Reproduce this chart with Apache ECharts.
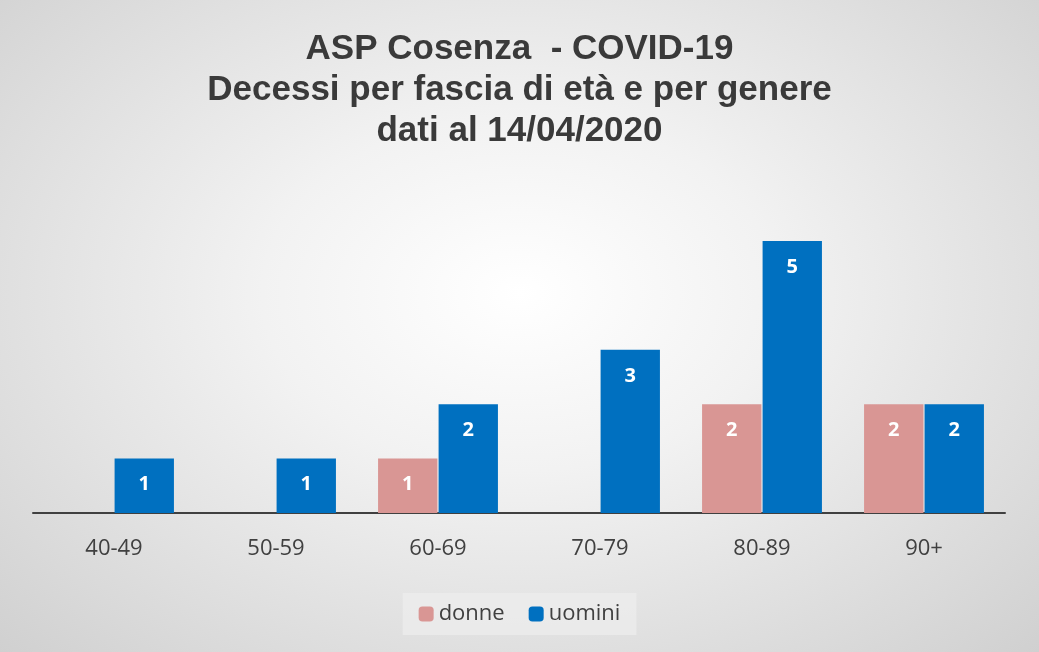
<!DOCTYPE html>
<html><head><meta charset="utf-8">
<script src="https://cdn.jsdelivr.net/npm/echarts@6/dist/echarts.min.js"></script>
<style>html,body{margin:0;padding:0;}#c{width:1039px;height:652px;background:radial-gradient(ellipse at 50% 45%,#ffffff 0%,#f2f2f2 35%,#d0d0d0 100%);}</style>
</head><body><div id="c"></div>
<script>
const categories=['40-49','50-59','60-69','70-79','80-89','90+'];
const donne=[null,null,1,null,2,2];
const uomini=[1,1,2,3,5,2];
const chart=echarts.init(document.getElementById('c'),null,{renderer:'canvas'});
const lbl={show:true,position:'insideTop',distance:16,color:'#fff',fontWeight:'bold',fontSize:20,fontFamily:'Open Sans'};
chart.setOption({
 backgroundColor:'transparent',
 title:{text:'ASP Cosenza  - COVID-19\nDecessi per fascia di età e per genere\ndati al 14/04/2020',left:'center',top:24,
  textStyle:{fontFamily:'Liberation Sans',fontWeight:'bold',fontSize:35,lineHeight:41,color:'#3a3a3a'}},
 legend:{bottom:17,left:'center',itemWidth:15,itemHeight:15,itemGap:24,padding:[10,16],backgroundColor:'rgba(235,235,235,0.9)',
  textStyle:{fontSize:22,color:'#404040',fontFamily:'Open Sans'},data:['donne','uomini']},
 grid:{left:33,right:34,top:241,bottom:139},
 xAxis:{type:'category',data:categories,axisTick:{show:false},axisLine:{lineStyle:{color:'#404040',width:2}},
  axisLabel:{fontSize:22,color:'#404040',margin:25,fontFamily:'Open Sans'}},
 yAxis:{type:'value',min:0,max:5,show:false,splitLine:{show:false}},
 series:[
  {name:'donne',type:'bar',data:donne,barGap:'2%',barCategoryGap:'26%',itemStyle:{color:'#d99694'},label:lbl},
  {name:'uomini',type:'bar',data:uomini,itemStyle:{color:'#0070c0'},label:lbl}
 ]
});
</script></body></html>
